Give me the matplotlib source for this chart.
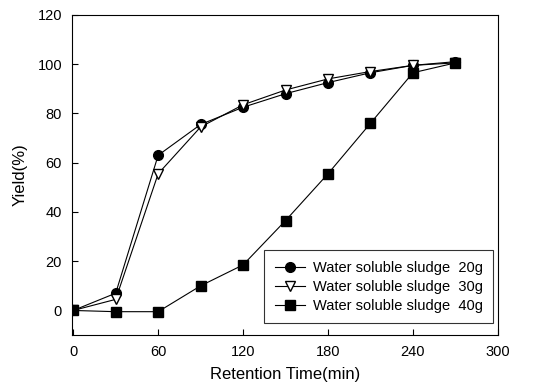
import matplotlib
matplotlib.use("Agg")
import matplotlib.pyplot as plt

plt.rcParams['font.family'] = ['Liberation Sans', 'DejaVu Sans']

time_min = [0, 30, 60, 90, 120, 150, 180, 210, 240, 270]
yield_20g = [0, 7, 63, 75.5, 82.5, 88, 92.5, 96.5, 99.5, 101]
yield_30g = [0, 4.5, 55.5, 74.5, 83.5, 89.5, 94, 97, 99.5, 100.5]
yield_40g = [0, -0.5, -0.5, 10, 18.5, 36.5, 55.5, 76, 96.5, 100.5]
labels = ["Water soluble sludge  20g", "Water soluble sludge  30g", "Water soluble sludge  40g"]
xticks = [0, 60, 120, 180, 240, 300]
yticks = [0, 20, 40, 60, 80, 100, 120]

fig = plt.figure(figsize=(5.4, 3.91), dpi=100)
ax = fig.add_axes([0.133, 0.143, 0.789, 0.819])

ax.plot(time_min, yield_20g, '-o', color='black', lw=0.8, ms=7, mfc='black', label=labels[0])
ax.plot(time_min, yield_30g, '-v', color='black', lw=0.8, ms=7.5, mfc='white', label=labels[1])
ax.plot(time_min, yield_40g, '-s', color='black', lw=0.8, ms=7, mfc='black', label=labels[2])

ax.set_xlim(-1, 300)
ax.set_ylim(-10, 120)
ax.set_xticks(xticks)
ax.set_yticks(yticks)
ax.tick_params(direction='in', labelsize=10.5, length=4, width=0.8, pad=7)
for s in ax.spines.values():
    s.set_linewidth(0.8)
ax.set_xlabel("Retention Time(min)", fontsize=12, labelpad=6)
ax.set_ylabel("Yield(%)", fontsize=12, labelpad=7)

leg = ax.legend(loc='lower right', bbox_to_anchor=(0.988, 0.0375), borderaxespad=0,
                fontsize=10.5, frameon=True, fancybox=False, edgecolor='black',
                handlelength=2.1, borderpad=0.7, labelspacing=0.35, handletextpad=0.5)
leg.get_frame().set_linewidth(0.8)

fig.savefig("out.png", dpi=100)
